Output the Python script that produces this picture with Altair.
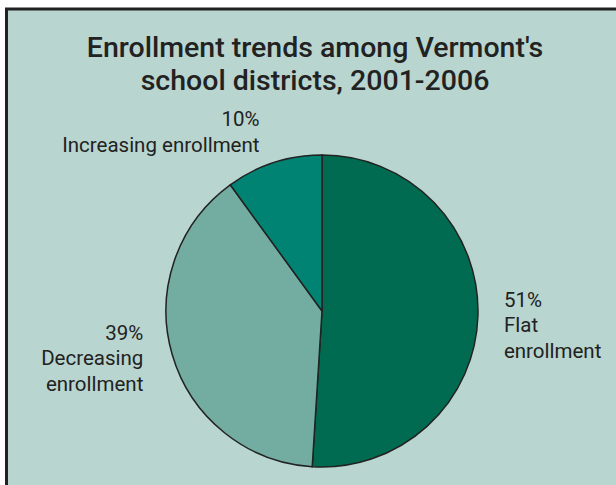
import altair as alt
import pandas as pd

# ---- data ----
categories = ["Flat enrollment", "Decreasing enrollment", "Increasing enrollment"]
shares = [51, 39, 10]
label_lines = ["51%\nFlat\nenrollment", "39%\nDecreasing\nenrollment", "10%\nIncreasing enrollment"]
slice_order = [0, 1, 2]
colors = ["#006b50", "#73ada2", "#008373"]

df = pd.DataFrame({
    "category": categories,
    "share": shares,
    "label": label_lines,
    "order": slice_order,
})

BG = "#b8d5cf"
INK = "#222222"
FONT = "Roboto"

base = alt.Chart(df).encode(
    theta=alt.Theta("share:Q", stack=True),
    order=alt.Order("order:Q"),
)

# decorative frame (drawn behind everything)
frame = alt.Chart(alt.Data(values=[{"f": 1}])).mark_rect(
    fill=BG, stroke=INK, strokeWidth=3
).encode(
    x=alt.value(-159.5), x2=alt.value(600),
    y=alt.value(-146), y2=alt.value(500),
)

pie = base.mark_arc(stroke=INK, strokeWidth=1.5).encode(
    color=alt.Color("category:N", scale=alt.Scale(domain=categories, range=colors), legend=None),
)

def label_layer(cat, align, radius, dx, dy):
    return base.mark_text(
        radius=radius, align=align, baseline="middle", dx=dx, dy=dy,
        font=FONT, fontSize=20.5, lineHeight=25.5, color=INK, lineBreak="\n",
    ).encode(text=alt.condition(alt.datum.category == cat, "label:N", alt.value("")))

lab_flat = label_layer("Flat enrollment", "left", 182, 0, -16)
lab_dec = label_layer("Decreasing enrollment", "right", 186, 0, -29)
lab_inc = label_layer("Increasing enrollment", "right", 186, -5, -14)

chart = alt.layer(frame, pie, lab_flat, lab_dec, lab_inc).properties(
    width=312, height=312,
    padding={"left": 166, "top": 155, "right": 138, "bottom": 18},
    autosize=alt.AutoSizeParams(type="none"),
    background="white",
    title=alt.TitleParams(
        text=["Enrollment trends among Vermont's", "school districts, 2001-2006"],
        font=FONT, fontSize=28.5, fontWeight=500, color=INK,
        lineHeight=33.5, anchor="middle", offset=-88, dx=-7,
    ),
).configure_view(stroke=None)

chart.save("out.html", embed_options={"renderer": "svg", "actions": False})
